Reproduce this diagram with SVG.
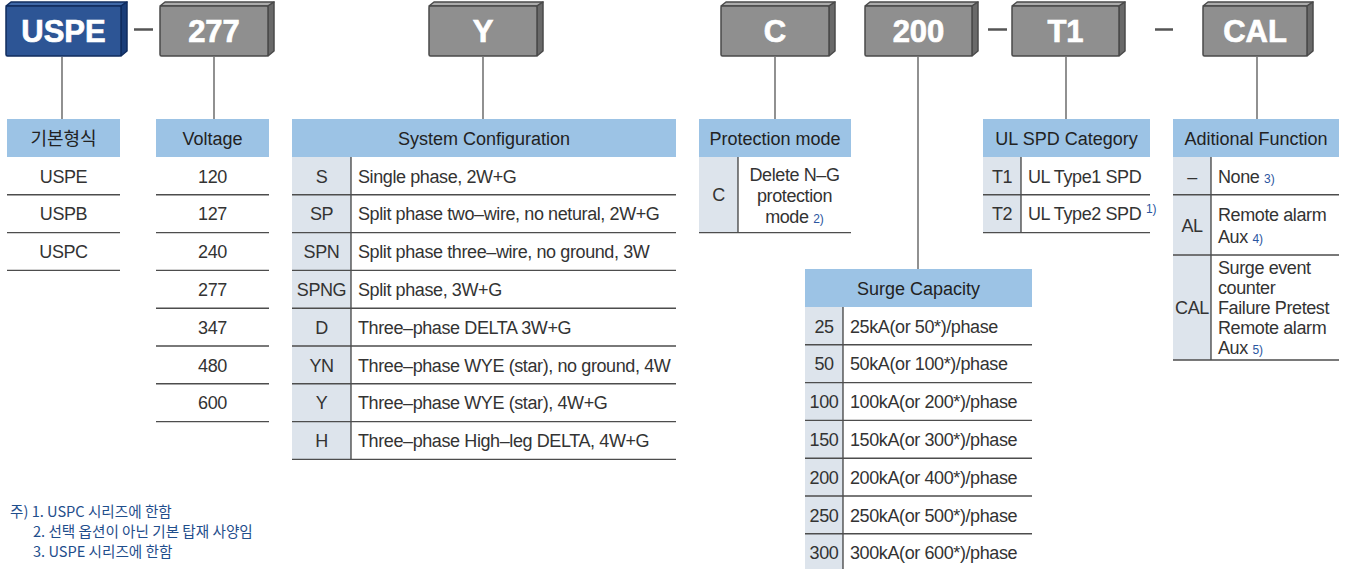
<svg xmlns="http://www.w3.org/2000/svg" width="1347" height="569" viewBox="0 0 1347 569">
<style>
.hdr{fill:#9cc3e5}
.code{fill:#dde4ec}
.rl{stroke:#4d4d4d;stroke-width:1.4}
.vd{stroke:#333;stroke-width:1.2}
.t{font-family:"Liberation Sans",Arial,sans-serif;font-size:18px;fill:#333;letter-spacing:-0.4px}
.c{text-anchor:middle}
.h{fill:#222;text-anchor:middle;letter-spacing:0}
.sup{font-size:12px;fill:#2a55a0;letter-spacing:0}
.kr{font-family:"Noto Sans CJK KR",sans-serif;font-size:18px}
.note{font-family:"Noto Sans CJK KR",sans-serif;font-size:14.6px;fill:#1f4e8c}
.bt{font-family:"Liberation Sans",Arial,sans-serif;font-weight:bold;font-size:31px;fill:#fff;stroke:#fff;stroke-width:0.7;text-anchor:middle}
.conn{stroke:#555;stroke-width:1.3;fill:none}
.dash{stroke:#555;stroke-width:2.5}
.gf{fill:#8f8f8f;stroke:#4a4a4a;stroke-width:1.5;stroke-linejoin:round}
.gt{fill:#acacac;stroke:#4a4a4a;stroke-width:1.5;stroke-linejoin:round}
.gs{fill:#696969;stroke:#4a4a4a;stroke-width:1.5;stroke-linejoin:round}
.bf{fill:#2d5595;stroke:#102c5e;stroke-width:1.5;stroke-linejoin:round}
.btp{fill:#4069a8;stroke:#102c5e;stroke-width:1.5;stroke-linejoin:round}
.bs{fill:#1a3d78;stroke:#102c5e;stroke-width:1.5;stroke-linejoin:round}
</style>

<!-- connectors -->
<g id="connectors">
  <line class="conn" x1="62" y1="57" x2="62" y2="119"/>
  <line class="conn" x1="214" y1="57" x2="214" y2="119"/>
  <line class="conn" x1="483" y1="57" x2="483" y2="119"/>
  <line class="conn" x1="775" y1="57" x2="775" y2="119"/>
  <line class="conn" x1="918" y1="57" x2="918" y2="269"/>
  <line class="conn" x1="1066" y1="57" x2="1066" y2="119"/>
  <line class="conn" x1="1257" y1="57" x2="1257" y2="119"/>
  <line class="dash" x1="134" y1="29.5" x2="153" y2="29.5"/>
  <line class="dash" x1="988" y1="29.5" x2="1007" y2="29.5"/>
  <line class="dash" x1="1155" y1="29.5" x2="1173" y2="29.5"/>
</g>

<!-- code boxes -->
<g id="box-uspe">
  <polygon class="btp" points="6,6 11,2 127,2 121,6"/>
  <polygon class="bs" points="121,6 127,2 127,51 121,56"/>
  <rect class="bf" x="6" y="6" width="115" height="50" rx="1.5"/>
  <text class="bt" x="63.5" y="42">USPE</text>
</g>
<g id="box-277">
  <polygon class="gt" points="160,6 165,2 274,2 268,6"/>
  <polygon class="gs" points="268,6 274,2 274,51 268,56"/>
  <rect class="gf" x="160" y="6" width="108" height="50" rx="1.5"/>
  <text class="bt" x="214" y="42">277</text>
</g>
<g id="box-y">
  <polygon class="gt" points="429,6 434,2 543,2 537,6"/>
  <polygon class="gs" points="537,6 543,2 543,51 537,56"/>
  <rect class="gf" x="429" y="6" width="108" height="50" rx="1.5"/>
  <text class="bt" x="483" y="42">Y</text>
</g>
<g id="box-c">
  <polygon class="gt" points="721,6 726,2 835,2 829,6"/>
  <polygon class="gs" points="829,6 835,2 835,51 829,56"/>
  <rect class="gf" x="721" y="6" width="108" height="50" rx="1.5"/>
  <text class="bt" x="775" y="42">C</text>
</g>
<g id="box-200">
  <polygon class="gt" points="865,6 870,2 978,2 972,6"/>
  <polygon class="gs" points="972,6 978,2 978,51 972,56"/>
  <rect class="gf" x="865" y="6" width="107" height="50" rx="1.5"/>
  <text class="bt" x="918.5" y="42">200</text>
</g>
<g id="box-t1">
  <polygon class="gt" points="1012,6 1017,2 1125,2 1119,6"/>
  <polygon class="gs" points="1119,6 1125,2 1125,51 1119,56"/>
  <rect class="gf" x="1012" y="6" width="107" height="50" rx="1.5"/>
  <text class="bt" x="1065.5" y="42">T1</text>
</g>
<g id="box-cal">
  <polygon class="gt" points="1203,6 1208,2 1313,2 1307,6"/>
  <polygon class="gs" points="1307,6 1313,2 1313,51 1307,56"/>
  <rect class="gf" x="1203" y="6" width="104" height="50" rx="1.5"/>
  <text class="bt" x="1255" y="42">CAL</text>
</g>

<!-- 기본형식 table -->
<g id="table-base">
  <rect class="hdr" x="7" y="119" width="113" height="38"/>
  <text class="t h kr" x="63.5" y="144.5">기본형식</text>
  <text class="t c" x="63.5" y="182.5">USPE</text>
  <text class="t c" x="63.5" y="220.3">USPB</text>
  <text class="t c" x="63.5" y="258.1">USPC</text>
  <line class="rl" x1="7" y1="194.8" x2="120" y2="194.8"/>
  <line class="rl" x1="7" y1="232.6" x2="120" y2="232.6"/>
  <line class="rl" x1="7" y1="270.4" x2="120" y2="270.4"/>
</g>

<!-- Voltage table -->
<g id="table-voltage">
  <rect class="hdr" x="156" y="119" width="113" height="38"/>
  <text class="t h" x="212.5" y="144.5">Voltage</text>
  <text class="t c" x="212.5" y="182.5">120</text>
  <text class="t c" x="212.5" y="220.3">127</text>
  <text class="t c" x="212.5" y="258.1">240</text>
  <text class="t c" x="212.5" y="295.9">277</text>
  <text class="t c" x="212.5" y="333.7">347</text>
  <text class="t c" x="212.5" y="371.5">480</text>
  <text class="t c" x="212.5" y="409.3">600</text>
  <line class="rl" x1="156" y1="194.8" x2="269" y2="194.8"/>
  <line class="rl" x1="156" y1="232.6" x2="269" y2="232.6"/>
  <line class="rl" x1="156" y1="270.4" x2="269" y2="270.4"/>
  <line class="rl" x1="156" y1="308.2" x2="269" y2="308.2"/>
  <line class="rl" x1="156" y1="346" x2="269" y2="346"/>
  <line class="rl" x1="156" y1="383.8" x2="269" y2="383.8"/>
  <line class="rl" x1="156" y1="421.6" x2="269" y2="421.6"/>
</g>

<!-- System Configuration table -->
<g id="table-system">
  <rect class="hdr" x="292" y="119" width="384" height="38"/>
  <rect class="code" x="292" y="157" width="59" height="302.4"/>
  <text class="t h" x="484" y="144.5">System Configuration</text>
  <text class="t c" x="321.5" y="182.5">S</text>
  <text class="t" x="358" y="182.5">Single phase, 2W+G</text>
  <text class="t c" x="321.5" y="220.3">SP</text>
  <text class="t" x="358" y="220.3">Split phase two–wire, no netural, 2W+G</text>
  <text class="t c" x="321.5" y="258.1">SPN</text>
  <text class="t" x="358" y="258.1">Split phase three–wire, no ground, 3W</text>
  <text class="t c" x="321.5" y="295.9">SPNG</text>
  <text class="t" x="358" y="295.9">Split phase, 3W+G</text>
  <text class="t c" x="321.5" y="333.7">D</text>
  <text class="t" x="358" y="333.7">Three–phase DELTA 3W+G</text>
  <text class="t c" x="321.5" y="371.5">YN</text>
  <text class="t" x="358" y="371.5">Three–phase WYE (star), no ground, 4W</text>
  <text class="t c" x="321.5" y="409.3">Y</text>
  <text class="t" x="358" y="409.3">Three–phase WYE (star), 4W+G</text>
  <text class="t c" x="321.5" y="447.1">H</text>
  <text class="t" x="358" y="447.1">Three–phase High–leg DELTA, 4W+G</text>
  <line class="vd" x1="351" y1="157" x2="351" y2="459.4"/>
  <line class="rl" x1="292" y1="194.8" x2="676" y2="194.8"/>
  <line class="rl" x1="292" y1="232.6" x2="676" y2="232.6"/>
  <line class="rl" x1="292" y1="270.4" x2="676" y2="270.4"/>
  <line class="rl" x1="292" y1="308.2" x2="676" y2="308.2"/>
  <line class="rl" x1="292" y1="346" x2="676" y2="346"/>
  <line class="rl" x1="292" y1="383.8" x2="676" y2="383.8"/>
  <line class="rl" x1="292" y1="421.6" x2="676" y2="421.6"/>
  <line class="rl" x1="292" y1="459.4" x2="676" y2="459.4"/>
</g>

<!-- Protection mode table -->
<g id="table-protection">
  <rect class="hdr" x="699" y="119" width="152" height="38"/>
  <rect class="code" x="699" y="157" width="39" height="75.5"/>
  <text class="t h" x="775" y="144.5">Protection mode</text>
  <text class="t c" x="718.5" y="201">C</text>
  <text class="t c" x="794.5" y="181">Delete N–G</text>
  <text class="t c" x="794.5" y="202">protection</text>
  <text class="t c" x="794.5" y="223">mode <tspan class="sup">2)</tspan></text>
  <line class="vd" x1="738" y1="157" x2="738" y2="232.6"/>
  <line class="rl" x1="699" y1="232.6" x2="851" y2="232.6"/>
</g>

<!-- UL SPD Category table -->
<g id="table-ulspd">
  <rect class="hdr" x="983" y="119" width="167" height="38"/>
  <rect class="code" x="983" y="157" width="38" height="75.5"/>
  <text class="t h" x="1066.5" y="144.5">UL SPD Category</text>
  <text class="t c" x="1002" y="182.5">T1</text>
  <text class="t" x="1028" y="182.5">UL Type1 SPD</text>
  <text class="t c" x="1002" y="220.3">T2</text>
  <text class="t" x="1028" y="220.3">UL Type2 SPD <tspan class="sup" dy="-7">1)</tspan></text>
  <line class="vd" x1="1021" y1="157" x2="1021" y2="232.6"/>
  <line class="rl" x1="983" y1="194.8" x2="1150" y2="194.8"/>
  <line class="rl" x1="983" y1="232.6" x2="1150" y2="232.6"/>
</g>

<!-- Additional Function table -->
<g id="table-additional">
  <rect class="hdr" x="1173" y="119" width="166" height="38"/>
  <rect class="code" x="1173" y="157" width="38" height="203"/>
  <text class="t h" x="1256" y="144.5">Aditional Function</text>
  <text class="t c" x="1192" y="182.5">–</text>
  <text class="t" x="1218" y="182.5">None <tspan class="sup">3)</tspan></text>
  <text class="t c" x="1192" y="231.5">AL</text>
  <text class="t" x="1218" y="221">Remote alarm</text>
  <text class="t" x="1218" y="243">Aux <tspan class="sup">4)</tspan></text>
  <text class="t c" x="1192" y="314">CAL</text>
  <text class="t" x="1218" y="274">Surge event</text>
  <text class="t" x="1218" y="294">counter</text>
  <text class="t" x="1218" y="314">Failure Pretest</text>
  <text class="t" x="1218" y="334">Remote alarm</text>
  <text class="t" x="1218" y="354">Aux <tspan class="sup">5)</tspan></text>
  <line class="vd" x1="1211" y1="157" x2="1211" y2="360"/>
  <line class="rl" x1="1173" y1="194.8" x2="1339" y2="194.8"/>
  <line class="rl" x1="1173" y1="255" x2="1339" y2="255"/>
  <line class="rl" x1="1173" y1="360" x2="1339" y2="360"/>
</g>

<!-- Surge Capacity table -->
<g id="table-surge">
  <rect class="hdr" x="805" y="269" width="227" height="38"/>
  <rect class="code" x="805" y="307" width="38" height="270"/>
  <text class="t h" x="918.5" y="294.5">Surge Capacity</text>
  <text class="t c" x="824" y="332.5">25</text>
  <text class="t" x="850" y="332.5">25kA(or 50*)/phase</text>
  <text class="t c" x="824" y="370.3">50</text>
  <text class="t" x="850" y="370.3">50kA(or 100*)/phase</text>
  <text class="t c" x="824" y="408.1">100</text>
  <text class="t" x="850" y="408.1">100kA(or 200*)/phase</text>
  <text class="t c" x="824" y="445.9">150</text>
  <text class="t" x="850" y="445.9">150kA(or 300*)/phase</text>
  <text class="t c" x="824" y="483.7">200</text>
  <text class="t" x="850" y="483.7">200kA(or 400*)/phase</text>
  <text class="t c" x="824" y="521.5">250</text>
  <text class="t" x="850" y="521.5">250kA(or 500*)/phase</text>
  <text class="t c" x="824" y="559.3">300</text>
  <text class="t" x="850" y="559.3">300kA(or 600*)/phase</text>
  <line class="vd" x1="843" y1="307" x2="843" y2="569"/>
  <line class="rl" x1="805" y1="344.8" x2="1032" y2="344.8"/>
  <line class="rl" x1="805" y1="382.6" x2="1032" y2="382.6"/>
  <line class="rl" x1="805" y1="420.4" x2="1032" y2="420.4"/>
  <line class="rl" x1="805" y1="458.2" x2="1032" y2="458.2"/>
  <line class="rl" x1="805" y1="496" x2="1032" y2="496"/>
  <line class="rl" x1="805" y1="533.8" x2="1032" y2="533.8"/>
</g>

<!-- notes -->
<g id="notes">
  <text class="note" x="10" y="517">주) 1. USPC 시리즈에 한함</text>
  <text class="note" x="33" y="537">2. 선택 옵션이 아닌 기본 탑재 사양임</text>
  <text class="note" x="33" y="557">3. USPE 시리즈에 한함</text>
</g>
</svg>
